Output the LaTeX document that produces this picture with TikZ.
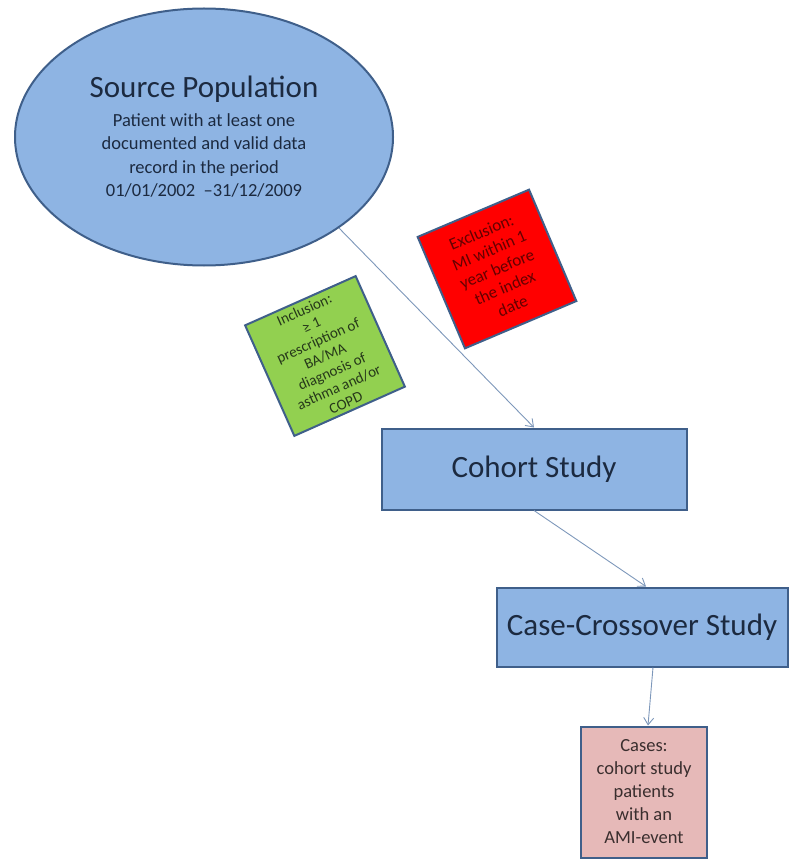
\documentclass[tikz,border=0pt]{standalone}
\usepackage{fontspec}
\setmainfont{Carlito}
\usetikzlibrary{shapes.geometric,arrows.meta}

\definecolor{boxblue}{HTML}{8EB4E3}
\definecolor{edgeblue}{HTML}{3F5F8A}
\definecolor{inkblue}{HTML}{1C2A40}
\definecolor{incgreen}{HTML}{92D050}
\definecolor{incink}{HTML}{26381A}
\definecolor{excred}{HTML}{FF0000}
\definecolor{excink}{HTML}{640000}
\definecolor{casepink}{HTML}{E6B9B8}
\definecolor{caseink}{HTML}{3A2E2E}
\definecolor{linkcol}{HTML}{7D97BA}

\tikzset{
    studybox/.style={draw=edgeblue,line width=2pt,fill=boxblue,text=inkblue,
        inner sep=0pt,font=\fontsize{31}{36}\selectfont},
    critbox/.style={draw=edgeblue,line width=2pt,inner sep=0pt,align=center,
        minimum width=121pt,minimum height=121pt},
    link/.style={draw=linkcol,line width=0.9pt,-{Straight Barb[length=7pt,width=10pt]}}
}

\begin{document}
\begin{tikzpicture}[x=1pt,y=-1pt]
    \useasboundingbox (0,0) rectangle (790,861);
    \node[ellipse,draw=edgeblue,line width=2pt,fill=boxblue,text=inkblue,
        minimum width=378pt,minimum height=257pt,inner sep=0pt,align=center,
        font=\fontsize{18.5}{23.5}\selectfont] (src) at (204,137)
        {{\fontsize{31}{34}\selectfont Source Population}\\[5pt]
         Patient with at least one\\ documented and valid data\\
         record in the period\\ 01/01/2002 \ \textendash31/12/2009};
    \node[critbox,fill=incgreen,text=incink,rotate=24,
        font=\fontsize{15}{17}\selectfont] (incl) at (325,356)
        {Inclusion:\\ ≥ 1\\ prescription of\\ BA/MA\\ diagnosis of\\ asthma and/or\\ COPD};
    \node[critbox,fill=excred,text=excink,rotate=23,
        font=\fontsize{17}{20}\selectfont] (excl) at (497,269)
        {Exclusion:\\ MI within 1\\ year before\\ the index\\ date};
    \node[studybox,minimum width=305pt,minimum height=81pt] (cohort) at (534,469) {Cohort Study};
    \node[studybox,minimum width=291pt,minimum height=79pt] (cross) at (642,627) {Case-Crossover Study};
    \node[draw=edgeblue,line width=2pt,fill=casepink,text=caseink,inner sep=0pt,
        minimum width=126pt,minimum height=131pt,align=center,
        font=\fontsize{18.5}{23}\selectfont] (cases) at (644,792)
        {Cases:\\ cohort study\\ patients\\ with an\\ AMI-event};

    \draw[link] (src.-34) -- (cohort.north);
    \draw[link] (cohort.south) -- ([xshift=4pt]cross.north);
    \draw[link] ([xshift=11pt]cross.south) -- ([xshift=4pt]cases.north);
\end{tikzpicture}
\end{document}
